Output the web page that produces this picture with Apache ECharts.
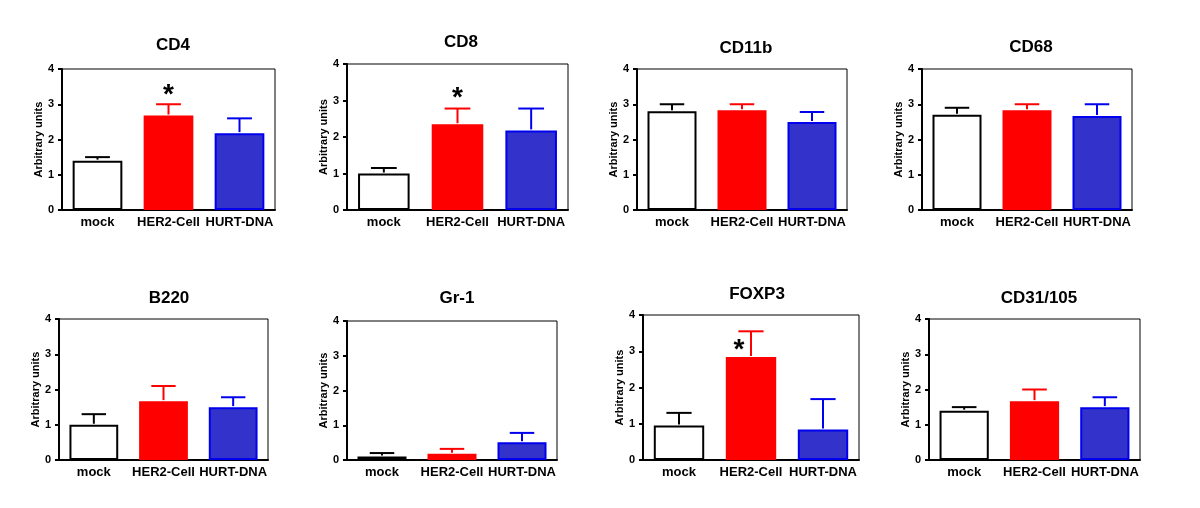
<!DOCTYPE html>
<html><head><meta charset="utf-8">
<script src="https://cdn.jsdelivr.net/npm/echarts@6/dist/echarts.min.js"></script>
<style>html,body{margin:0;padding:0;background:#fff}#c{width:1200px;height:508px}</style>
</head><body><div id="c"></div>
<script>
var categories = ['mock', 'HER2-Cell', 'HURT-DNA'];
var titles = ['CD4', 'CD8', 'CD11b', 'CD68', 'B220', 'Gr-1', 'FOXP3', 'CD31/105'];
var yTicks = [0, 1, 2, 3, 4];
var mockMean = [1.4, 1.0, 2.8, 2.7, 1.0, 0.1, 0.95, 1.4];
var mockUpper = [1.5, 1.15, 3.0, 2.9, 1.3, 0.2, 1.3, 1.5];
var her2Mean = [2.68, 2.35, 2.83, 2.83, 1.67, 0.18, 2.84, 1.67];
var her2Upper = [3.0, 2.78, 3.0, 3.0, 2.1, 0.32, 3.55, 2.0];
var hurtMean = [2.18, 2.18, 2.5, 2.67, 1.5, 0.51, 0.84, 1.5];
var hurtUpper = [2.6, 2.78, 2.78, 3.0, 1.78, 0.78, 1.68, 1.78];
// significance stars: [panel index, category index, y value]
var stars = [[0, 1, 3.4], [1, 1, 3.2], [6, 1, 3.17]];

var grids = [
  {left: 62, top: 69, width: 213, height: 141},
  {left: 347, top: 64, width: 221, height: 146},
  {left: 637, top: 69, width: 210, height: 141},
  {left: 922, top: 69, width: 210, height: 141},
  {left: 59, top: 319, width: 209, height: 141},
  {left: 347, top: 321, width: 210, height: 139},
  {left: 643, top: 315, width: 216, height: 145},
  {left: 929, top: 319, width: 211, height: 141}
];
var titlePos = [[168, 43], [456, 40], [741, 46], [1026, 45], [164, 296], [452, 296], [752, 292], [1034, 296]];

var fills = ['#ffffff', '#ff0000', '#3333cc'];
var borders = ['#000000', '#ff0000', '#0000ee'];
var FONT = 'Liberation Sans, Arial, sans-serif';
var BAR = 0.7;

var option = {
  backgroundColor: '#fff',
  animation: false,
  title: [], grid: [], xAxis: [], yAxis: [], series: []
};

titles.forEach(function (t, i) {
  var g = grids[i];
  option.title.push({
    text: t, left: titlePos[i][0], top: titlePos[i][1] - 11, textAlign: 'center',
    textStyle: {fontFamily: FONT, fontWeight: 'bold', fontSize: 17, color: '#000'}
  });
  option.grid.push({left: g.left, top: g.top, width: g.width, height: g.height,
    show: true, borderColor: '#000', borderWidth: 1, backgroundColor: 'transparent'});
  option.xAxis.push({
    type: 'category', gridIndex: i, data: categories,
    axisLine: {show: true, lineStyle: {color: '#000', width: 2}},
    axisTick: {show: false},
    axisLabel: {interval: 0, margin: 6, color: '#000', fontFamily: FONT, fontWeight: 'bold', fontSize: 13}
  });
  option.yAxis.push({
    type: 'value', gridIndex: i, min: yTicks[0], max: yTicks[yTicks.length - 1], interval: 1,
    name: 'Arbitrary units', nameLocation: 'middle', nameRotate: 90, nameGap: 16,
    nameTextStyle: {fontFamily: FONT, fontWeight: 'bold', fontSize: 11, color: '#000'},
    axisLine: {show: true, lineStyle: {color: '#000', width: 2}},
    axisTick: {show: true, length: 4, lineStyle: {color: '#000', width: 2}},
    splitLine: {show: false},
    axisLabel: {margin: 8, color: '#000', fontFamily: FONT, fontWeight: 'bold', fontSize: 11}
  });
  var means = [mockMean[i], her2Mean[i], hurtMean[i]];
  var uppers = [mockUpper[i], her2Upper[i], hurtUpper[i]];
  option.series.push({
    type: 'bar', xAxisIndex: i, yAxisIndex: i, barWidth: (BAR * 100) + '%', z: 2,
    data: means.map(function (v, k) {
      return {value: v, itemStyle: {color: fills[k], borderColor: borders[k], borderWidth: 2}};
    })
  });
  option.series.push({
    type: 'custom', xAxisIndex: i, yAxisIndex: i, z: 3,
    data: means.map(function (v, k) { return [k, v, uppers[k]]; }),
    renderItem: function (params, api) {
      var k = api.value(0);
      var top = api.coord([k, api.value(1)]);
      var up = api.coord([k, api.value(2)]);
      var bw = api.size([1, 0])[0] * BAR;
      var half = bw / 4;
      var col = borders[k];
      return {type: 'group', children: [
        {type: 'line', shape: {x1: top[0], y1: top[1] - 1, x2: up[0], y2: up[1]}, style: {stroke: col, lineWidth: 2}},
        {type: 'line', shape: {x1: up[0] - half, y1: up[1], x2: up[0] + half, y2: up[1]}, style: {stroke: col, lineWidth: 2}}
      ]};
    }
  });
});

stars.forEach(function (s) {
  var p = s[0];
  var dx = p === 6 ? -12 : 0;
  option.series.push({
    type: 'custom', xAxisIndex: p, yAxisIndex: p, z: 4,
    data: [[s[1], s[2]]],
    renderItem: function (params, api) {
      var c = api.coord([api.value(0), api.value(1)]);
      return {type: 'text', x: c[0] + dx, y: c[1] + 5,
        style: {text: '*', fill: '#000', font: 'bold 28px ' + FONT, textAlign: 'center', textVerticalAlign: 'middle'}};
    }
  });
});

var chart = echarts.init(document.getElementById('c'), null, {renderer: 'canvas'});
chart.setOption(option);
</script></body></html>
